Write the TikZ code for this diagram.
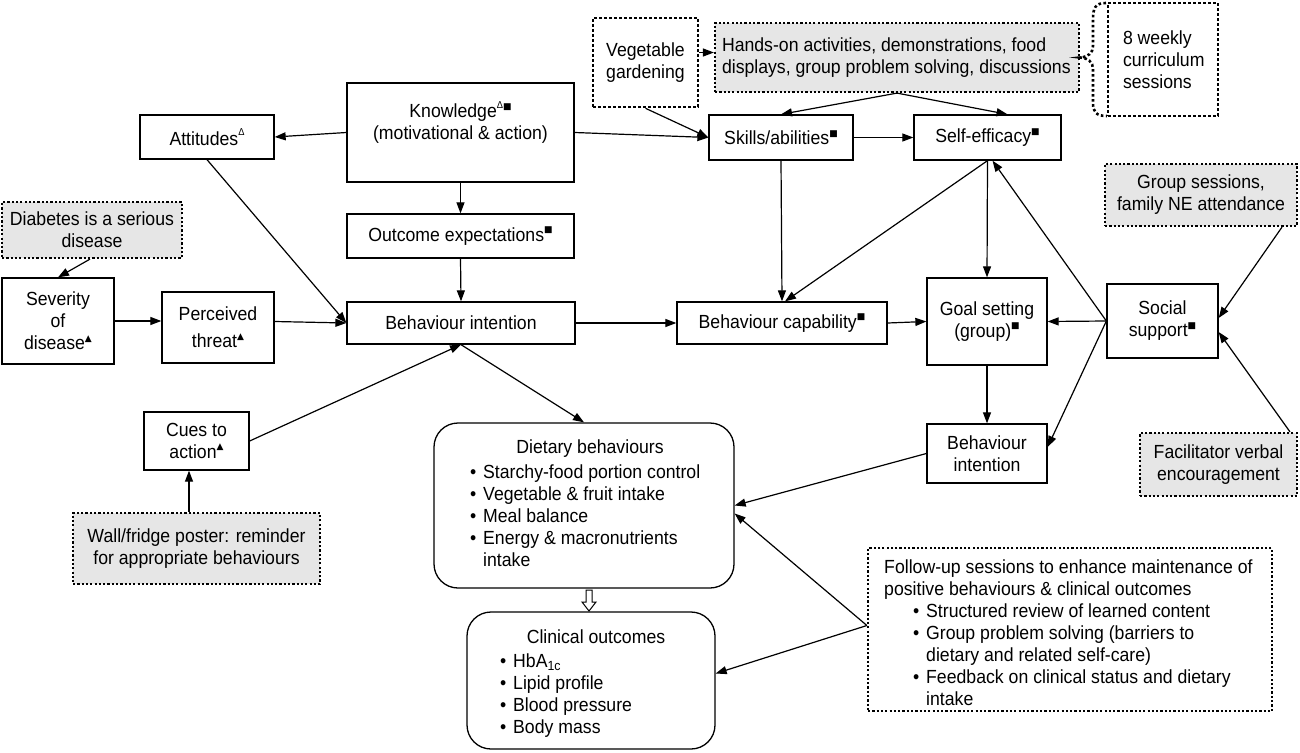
\documentclass[tikz,border=0pt]{standalone}
\usepackage{fontspec}
\setmainfont{Liberation Sans}[FakeStretch=0.93]
\newfontfamily\symf{DejaVu Sans}
\usetikzlibrary{arrows.meta}
\definecolor{gbg}{HTML}{E6E6E6}
\newcommand\fsz{\fontsize{19}{22}\selectfont}
\newcommand\msq{\raisebox{0.45em}{\fontsize{9}{9}\selectfont\symf ■}}
\newcommand\mtri{\raisebox{0.45em}{\fontsize{9}{9}\selectfont\symf ▲}}
\newcommand\mdel{\raisebox{0.5em}{\fontsize{10}{10}\selectfont Δ}}
\newcommand\bul{\makebox[13pt][l]{•}}
\begin{document}
\begin{tikzpicture}[x=1pt,y=-1pt,
  box/.style={draw, line width=1.3pt, inner sep=0pt, align=center, font=\fsz},
  dbox/.style={box, line width=2.2pt, dash pattern=on 2.2pt off 2.1pt},
  wbox/.style={box, line width=2.6pt, dash pattern=on 2.6pt off 2.4pt},
  rbox/.style={box, rounded corners=24pt},
  txt/.style={inner sep=0pt, font=\fsz},
  arr/.style={-{Triangle[length=11pt,width=8pt]}, line width=1.2pt}]
\useasboundingbox (0,0) rectangle (1300,752);
% top row
\node[wbox, minimum width=105pt, minimum height=89pt] (veg) at (645.5,62.5) {Vegetable\\gardening};
\node[dbox, fill=gbg, minimum height=69pt, text width=356pt, inner xsep=4pt, align=flush left] (hands) at (897,57.5) {\hspace*{3pt}Hands-on activities, demonstrations, food\\\hspace*{3pt}displays, group problem solving, discussions};
\node[wbox, minimum height=113pt, text width=80pt, inner xsep=15pt, align=flush left] (weekly) at (1163,59.5) {8 weekly\\curriculum\\sessions};
\draw[line width=2.6pt, dash pattern=on 2.6pt off 2.4pt] (1106,3) .. controls (1095,3) and (1093,8) .. (1093,20) -- (1093,46) .. controls (1093,53) and (1088,57) .. (1080,57.5) .. controls (1088,58) and (1093,62) .. (1093,69) -- (1093,103) .. controls (1093,112) and (1096,116) .. (1107,116);
% left part
\node[box, minimum width=227pt, minimum height=99pt, label={[font=\fsz, align=center, yshift=10pt]center:Knowledge\mdel\msq\\(motivational \& action)}] (know) at (460.5,132.5) {};
\node[box, minimum width=134pt, minimum height=44pt] (att) at (207,137) {Attitudes\mdel};
\node[box, minimum width=227pt, minimum height=44pt] (out) at (460.5,236) {Outcome expectations\msq};
\node[box, minimum width=228pt, minimum height=42pt] (bi) at (461,323) {Behaviour intention};
\node[dbox, fill=gbg, minimum width=180pt, minimum height=56pt] (diab) at (92,230) {Diabetes is a serious\\disease};
\node[box, minimum width=112pt, minimum height=86pt] (sev) at (58,321) {Severity\\of\\disease\mtri};
\node[box, minimum width=112pt, minimum height=71pt] (per) at (218,327.5) {Perceived\\[5pt]threat\mtri};
\node[box, minimum width=105pt, minimum height=58pt] (cues) at (196.5,441) {Cues to\\action\mtri};
\node[dbox, fill=gbg, minimum width=247pt, minimum height=71pt] (poster) at (196.5,548.5) {Wall/fridge poster: reminder\\for appropriate behaviours};
% right part
\node[box, minimum width=144pt, minimum height=45pt] (skills) at (781,137.5) {Skills/abilities\msq};
\node[box, minimum width=147pt, minimum height=45pt] (self) at (987.5,137.5) {Self-efficacy\msq};
\node[box, minimum width=210pt, minimum height=42pt] (bc) at (782,323) {Behaviour capability\msq};
\node[box, minimum width=120pt, minimum height=87pt] (goal) at (987,321.5) {Goal setting\\(group)\msq};
\node[box, minimum width=111pt, minimum height=74pt] (soc) at (1162.5,321) {Social\\support\msq};
\node[dbox, fill=gbg, minimum width=192pt, minimum height=62pt] (grp) at (1201,195) {Group sessions,\\family NE attendance};
\node[dbox, fill=gbg, minimum width=157pt, minimum height=63pt] (fac) at (1218.5,464.5) {Facilitator verbal\\encouragement};
\node[box, minimum width=120pt, minimum height=59pt] (bi2) at (987,453.5) {Behaviour\\intention};
% bottom
\node[rbox, minimum width=300pt, minimum height=165pt] (diet) at (584,505.5) {};
\node[txt] (dieth) at (590,449) {Dietary behaviours};
\node[txt, anchor=north west, align=flush left] (dietl) at (470,464.5) {\bul Starchy-food portion control\\\bul Vegetable \& fruit intake\\\bul Meal balance\\\bul Energy \& macronutrients\\\hspace*{13pt}intake};
\node[rbox, minimum width=248pt, minimum height=137pt] (clin) at (591,680.5) {};
\node[txt] (clinh) at (596,637) {Clinical outcomes};
\node[txt, anchor=north west, align=flush left] (clinl) at (500,653.5) {\bul HbA\textsubscript{1c}\\\bul Lipid profile\\\bul Blood pressure\\\bul Body mass};
\node[dbox, minimum width=404pt, minimum height=163pt] (fu) at (1070,629.5) {};
\node[txt, anchor=north west, align=flush left] (fut) at (884,559.5) {Follow-up sessions to enhance maintenance of\\positive behaviours \& clinical outcomes\\\hspace*{29pt}\bul Structured review of learned content\\\hspace*{29pt}\bul Group problem solving (barriers to\\\hspace*{42pt}dietary and related self-care)\\\hspace*{29pt}\bul Feedback on clinical status and dietary\\\hspace*{42pt}intake};
\draw[line width=1pt, fill=white] (586,590) -- (592,590) -- (592,602) -- (596,602) -- (589,611) -- (582,602) -- (586,602) -- cycle;
% connectors
\draw[arr] (know.west) -- (att.east);
\draw[arr] (know.east) -- (skills.west);
\draw[arr] (know.south) -- (out.north);
\draw[arr] (out.south) -- (bi.north);
\draw[arr] (att.south) -- (bi.west);
\draw[arr] ([xshift=-2pt]diab.south) -- (sev.north);
\draw[arr] (sev.east) -- (sev.east -| per.west);
\draw[arr] ([yshift=6pt]per.east) -- (bi.west);
\draw[arr] (cues.east) -- (bi.south);
\draw[arr] ([xshift=-7.5pt]poster.north) -- ([xshift=-7.5pt]cues.south);
\draw[arr] (bi.south) -- (diet.north);
\draw[arr] (bi.east) -- (bc.west);
\draw[arr] (veg.south) -- (skills.west);
\draw[arr] ([yshift=10pt]veg.east) -- ([yshift=5pt]hands.west);
\draw[arr] (hands.south) -- (skills.north);
\draw[arr] (hands.south) -- ([xshift=20pt]self.north);
\draw[arr] (skills.east) -- (self.west);
\draw[arr] (skills.south) -- (bc.north);
\draw[arr] (self.south) -- ([xshift=3pt]bc.north);
\draw[arr] (self.south) -- (goal.north);
\draw[arr] (bc.east) -- (goal.west);
\draw[arr] (soc.west) -- (goal.east);
\draw[arr] (soc.west) -- ([xshift=5pt]self.south);
\draw[arr] (soc.west) -- ([yshift=6.5pt]bi2.east);
\draw[arr] (goal.south) -- (bi2.north);
\draw[arr] ([xshift=81pt]grp.south) -- ([yshift=3pt]soc.east);
\draw[arr] ([xshift=71.5pt]fac.north) -- ([yshift=-11pt]soc.east);
\draw[arr] (bi2.west) -- (diet.east);
\draw[arr] ([yshift=4pt]fu.west) -- ([yshift=-8pt]diet.east);
\draw[arr] ([yshift=4pt]fu.west) -- ([yshift=7pt]clin.east);
\end{tikzpicture}
\end{document}
